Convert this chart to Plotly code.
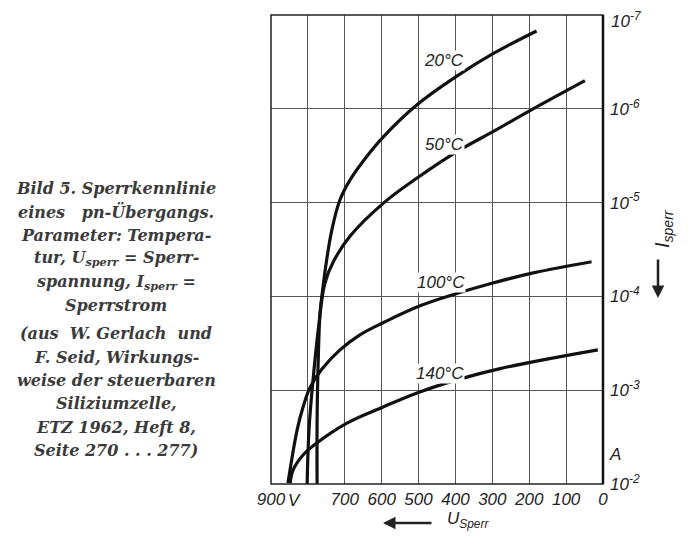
import math
import plotly.graph_objects as go

# ---- data (U in V, I in A) ----
u_20 = [180, 297, 392, 505, 596, 641, 686, 713, 735, 749, 759, 767, 772, 775, 775]
i_20 = [1.48e-7, 2.57e-7, 4.37e-7, 9.12e-7, 2.0e-6, 3.24e-6, 5.75e-6, 9.33e-6, 1.95e-5,
        4.07e-5, 7.94e-5, 1.51e-4, 4.79e-4, 2.09e-3, 1.0e-2]

u_50 = [49, 193, 297, 397, 501, 596, 686, 731, 754, 772, 786, 797, 802]
i_50 = [5.01e-7, 1.02e-6, 1.74e-6, 2.88e-6, 5.37e-6, 1.02e-5, 2.29e-5, 4.27e-5,
        7.24e-5, 2.29e-4, 7.76e-4, 2.63e-3, 1.0e-2]

u_100 = [31, 189, 306, 397, 496, 596, 659, 713, 763, 794, 813, 829, 854]
i_100 = [4.27e-5, 5.62e-5, 7.33e-5, 9.33e-5, 1.26e-4, 1.91e-4, 2.57e-4,
         3.72e-4, 6.03e-4, 9.33e-4, 1.51e-3, 2.63e-3, 9.77e-3]

u_140 = [14, 279, 396, 504, 596, 694, 775, 813, 840, 848]
i_140 = [3.72e-4, 5.89e-4, 7.76e-4, 1.07e-3, 1.51e-3, 2.24e-3, 3.63e-3, 4.9e-3,
         7.08e-3, 9.77e-3]

curve_labels = ["20°C", "50°C", "100°C", "140°C"]
label_u = [431, 431, 439, 442]
label_i = [3.09e-7, 2.40e-6, 7.08e-5, 6.61e-4]

x_tickvals = [900, 800, 700, 600, 500, 400, 300, 200, 100, 0]
x_ticktext = ["900", "", "700", "600", "500", "400", "300", "200", "100", "0"]
y_tickvals = [1e-7, 1e-6, 1e-5, 1e-4, 1e-3, 1e-2]
y_ticktext = ["10<sup>-7</sup>", "10<sup>-6</sup>", "10<sup>-5</sup>",
              "10<sup>-4</sup>", "10<sup>-3</sup>", "10<sup>-2</sup>"]

caption = [
    "Bild 5. Sperrkennlinie",
    "eines&nbsp;&nbsp;&nbsp;pn-Übergangs.",
    "Parameter: Tempera-",
    "tur, U<sub>sperr</sub> = Sperr-",
    "spannung, I<sub>sperr</sub> =",
    "Sperrstrom",
    "(aus&nbsp; W. Gerlach&nbsp; und",
    "F. Seid, Wirkungs-",
    "weise der steuerbaren",
    "Siliziumzelle,",
    "ETZ 1962, Heft 8,",
    "Seite 270 . . . 277)",
]
caption_py = [188, 212, 235, 258, 282, 305, 333, 357, 380, 403, 427, 450]

# ---- layout geometry (pixels in the reference frame) ----
OFF = 8                      # page body margin of the browser
W, H = 688 - OFF, 537 - OFF
L, R, T, B = 271, 603, 15, 484


def px(x):
    return (x - L) / (R - L)


def py(y):
    return (B - y) / (B - T)


NARROW = "Liberation Sans Narrow, Liberation Sans, Arial"
SERIF = "DejaVu Serif, serif"
INK = "#222"

fig = go.Figure()
for u, i in [(u_20, i_20), (u_50, i_50), (u_100, i_100), (u_140, i_140)]:
    fig.add_trace(go.Scatter(x=u, y=i, mode="lines",
                             line=dict(color="#111", width=3.2, shape="spline", smoothing=1.1),
                             hoverinfo="skip", showlegend=False))

annotations = []
for t, u, i in zip(curve_labels, label_u, label_i):
    annotations.append(dict(x=u, y=math.log10(i), xref="x", yref="y",
                            xanchor="center", yanchor="middle",
                            text="<i>" + t + "</i>", showarrow=False, bgcolor="white",
                            borderpad=0, font=dict(family=NARROW, size=17, color=INK)))

for t, yy in zip(caption, caption_py):
    annotations.append(dict(x=px(116), y=py(yy), xref="paper", yref="paper",
                            xanchor="center", yanchor="middle", showarrow=False,
                            text="<i><b>" + t + "</b></i>",
                            font=dict(family=SERIF, size=16, color="#3a3a3a")))


def label(text, x, y, size=17, **kw):
    d = dict(x=px(x), y=py(y), xref="paper", yref="paper", showarrow=False,
             xanchor="center", yanchor="middle", text=text,
             font=dict(family=NARROW, size=size, color=INK))
    d.update(kw)
    annotations.append(d)


# top tick label (kept as text so it is not dropped at the range end)
label("<i>10<sup>-7</sup></i>", 609, 20, xanchor="left")
# unit labels
label("<i>V</i>", 294, 500)
label("<i>A</i>", 615, 454)
# axis titles
label("<i>U<sub>Sperr</sub></i>", 468, 520, size=17, borderpad=0)
label("<i>I<sub>sperr</sub></i>", 664, 229, size=20, textangle=-90)

# arrows
annotations.append(dict(x=px(383), y=py(523), xref="paper", yref="paper", ax=50, ay=0,
                        text="", showarrow=True, arrowhead=2, arrowsize=1, arrowwidth=2.5,
                        arrowcolor=INK))
annotations.append(dict(x=px(658), y=py(298), xref="paper", yref="paper", ax=0, ay=-40,
                        text="", showarrow=True, arrowhead=2, arrowsize=1, arrowwidth=2.5,
                        arrowcolor=INK))

shapes = [
    dict(type="rect", xref="paper", yref="paper", x0=0, x1=1, y0=0, y1=1,
         line=dict(color=INK, width=1.5)),
    dict(type="line", xref="paper", yref="paper", x0=1, x1=1, y0=0, y1=1,
         line=dict(color="#111", width=2.5)),
]

fig.update_layout(
    width=W, height=H,
    margin=dict(l=L - OFF, r=W - (R - OFF), t=T - OFF, b=H - (B - OFF)),
    paper_bgcolor="white", plot_bgcolor="white",
    showlegend=False,
    annotations=annotations,
    shapes=shapes,
    xaxis=dict(range=[900, 0], tickvals=x_tickvals,
               ticktext=["<i>" + t + "</i>" for t in x_ticktext],
               showgrid=True, gridcolor="#555", gridwidth=1.2, zeroline=False,
               ticks="", ticklabelstandoff=3,
               tickfont=dict(family=NARROW, size=17, color=INK),
               showline=False, automargin=False),
    yaxis=dict(type="log", range=[-2, -7], side="right", tickvals=y_tickvals[1:],
               ticktext=["<i>" + t + "</i>" for t in y_ticktext[1:]],
               showgrid=True, gridcolor="#555", gridwidth=1.2, zeroline=False,
               ticks="", ticklabelstandoff=6,
               tickfont=dict(family=NARROW, size=17, color=INK),
               showline=False, automargin=False),
)

fig.write_html("out.html")
